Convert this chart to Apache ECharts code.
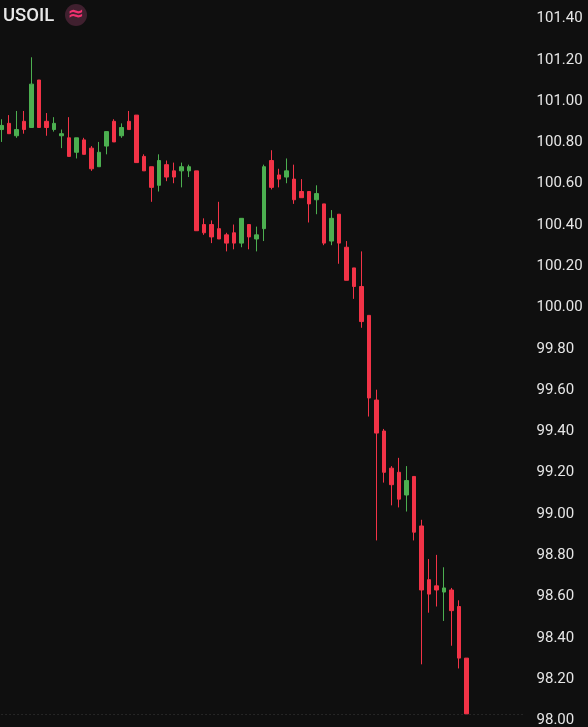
<!DOCTYPE html>
<html>
<head>
<meta charset="utf-8">
<style>html,body{margin:0;padding:0;background:#0f0f0f}#c{width:588px;height:727px}</style>
<script src="https://cdn.jsdelivr.net/npm/echarts@6/dist/echarts.min.js"></script>
</head>
<body>
<div id="c"></div>
<script>
const opens = [100.85,100.88,100.82,100.89,100.86,101.09,100.89,100.85,100.82,100.81,100.74,100.80,100.76,100.67,100.77,100.89,100.82,100.89,100.92,100.72,100.67,100.58,100.68,100.65,100.65,100.65,100.65,100.39,100.39,100.37,100.34,100.35,100.30,100.39,100.32,100.37,100.70,100.63,100.62,100.61,100.55,100.55,100.51,100.49,100.31,100.44,100.28,100.18,100.09,99.95,99.54,99.39,99.21,99.19,99.08,99.17,98.93,98.67,98.64,98.61,98.62,98.54,98.29];
const closes = [100.87,100.83,100.85,100.85,101.07,100.86,100.86,100.88,100.83,100.72,100.81,100.73,100.66,100.74,100.84,100.79,100.86,100.85,100.69,100.65,100.57,100.70,100.62,100.62,100.67,100.67,100.36,100.35,100.33,100.32,100.30,100.30,100.42,100.33,100.34,100.67,100.57,100.61,100.65,100.51,100.52,100.49,100.54,100.30,100.42,100.30,100.12,100.09,99.92,99.55,99.38,99.19,99.13,99.06,99.15,98.90,98.62,98.60,98.62,98.63,98.52,98.29,98.02];
const lows = [100.79,100.83,100.81,100.83,100.86,100.86,100.82,100.84,100.76,100.72,100.71,100.73,100.65,100.67,100.73,100.79,100.81,100.85,100.69,100.65,100.50,100.55,100.60,100.59,100.57,100.62,100.36,100.34,100.30,100.32,100.26,100.27,100.28,100.27,100.26,100.31,100.56,100.57,100.59,100.49,100.52,100.40,100.44,100.29,100.29,100.20,100.12,100.03,99.89,99.46,98.86,99.14,99.03,99.02,99.00,98.86,98.26,98.51,98.54,98.47,98.35,98.24,98.02];
const highs = [100.90,100.92,100.94,100.94,101.20,101.09,100.93,100.91,100.85,100.91,100.81,100.81,100.77,100.79,100.84,100.90,100.88,100.94,100.92,100.73,100.67,100.73,100.70,100.69,100.69,100.68,100.65,100.42,100.41,100.50,100.35,100.39,100.42,100.39,100.38,100.68,100.75,100.66,100.71,100.68,100.61,100.55,100.58,100.49,100.46,100.44,100.31,100.18,100.26,99.95,99.59,99.40,99.22,99.26,99.22,99.17,98.96,98.77,98.79,98.73,98.63,98.57,98.29];
const blankSlots = ['', '', '', '', '', '', ''];
const categories = opens.map((_, i) => String(i + 1)).concat(blankSlots);
const lastPriceLine = 98.02;
const symbolName = 'USOIL';
const iconGlyph = '≈';

const candles = opens.map((o, i) => [o, closes[i], lows[i], highs[i]]);
const chart = echarts.init(document.getElementById('c'), null, {renderer: 'canvas'});
chart.setOption({
  animation: false,
  backgroundColor: '#0f0f0f',
  title: {
    text: symbolName, left: 3, top: 7, padding: 0,
    textStyle: {color: '#e8e8e8', fontFamily: 'Roboto', fontSize: 18.5, fontWeight: 500}
  },
  graphic: [
    {type: 'circle', shape: {cx: 76, cy: 15, r: 11}, style: {fill: '#40202f'}, silent: true},
    {type: 'text', x: 76, y: 15, silent: true, style: {text: iconGlyph, fill: '#f0316f', font: '700 20px "DejaVu Sans"', textAlign: 'center', textVerticalAlign: 'middle'}}
  ],
  grid: {left: -2.45, top: 16, width: 525, height: 702, containLabel: false, outerBoundsMode: 'none'},
  xAxis: {
    type: 'category', data: categories, boundaryGap: true,
    axisLine: {show: false}, axisTick: {show: false}, axisLabel: {show: false}, splitLine: {show: false}
  },
  yAxis: {
    type: 'value', position: 'right', min: 98, max: 101.4, interval: 0.2, scale: true,
    axisLine: {show: false}, axisTick: {show: false}, splitLine: {show: false},
    axisLabel: {
      color: '#e6e6e6', fontFamily: 'Roboto', fontSize: 15, margin: 14, showMinLabel: true, showMaxLabel: true,
      verticalAlign: 'top', lineHeight: 5,
      formatter: v => v.toFixed(2)
    }
  },
  series: [{
    type: 'candlestick', data: candles, barWidth: 4, clip: false,
    itemStyle: {color: '#4caf50', color0: '#f23347', borderColor: '#4caf50', borderColor0: '#f23347', borderWidth: 1},
    markLine: {
      silent: true, symbol: 'none', label: {show: false}, animation: false,
      lineStyle: {color: '#3c3c3c', type: [1, 3], width: 1},
      data: [{yAxis: lastPriceLine}]
    }
  }]
});
</script>
</body>
</html>
